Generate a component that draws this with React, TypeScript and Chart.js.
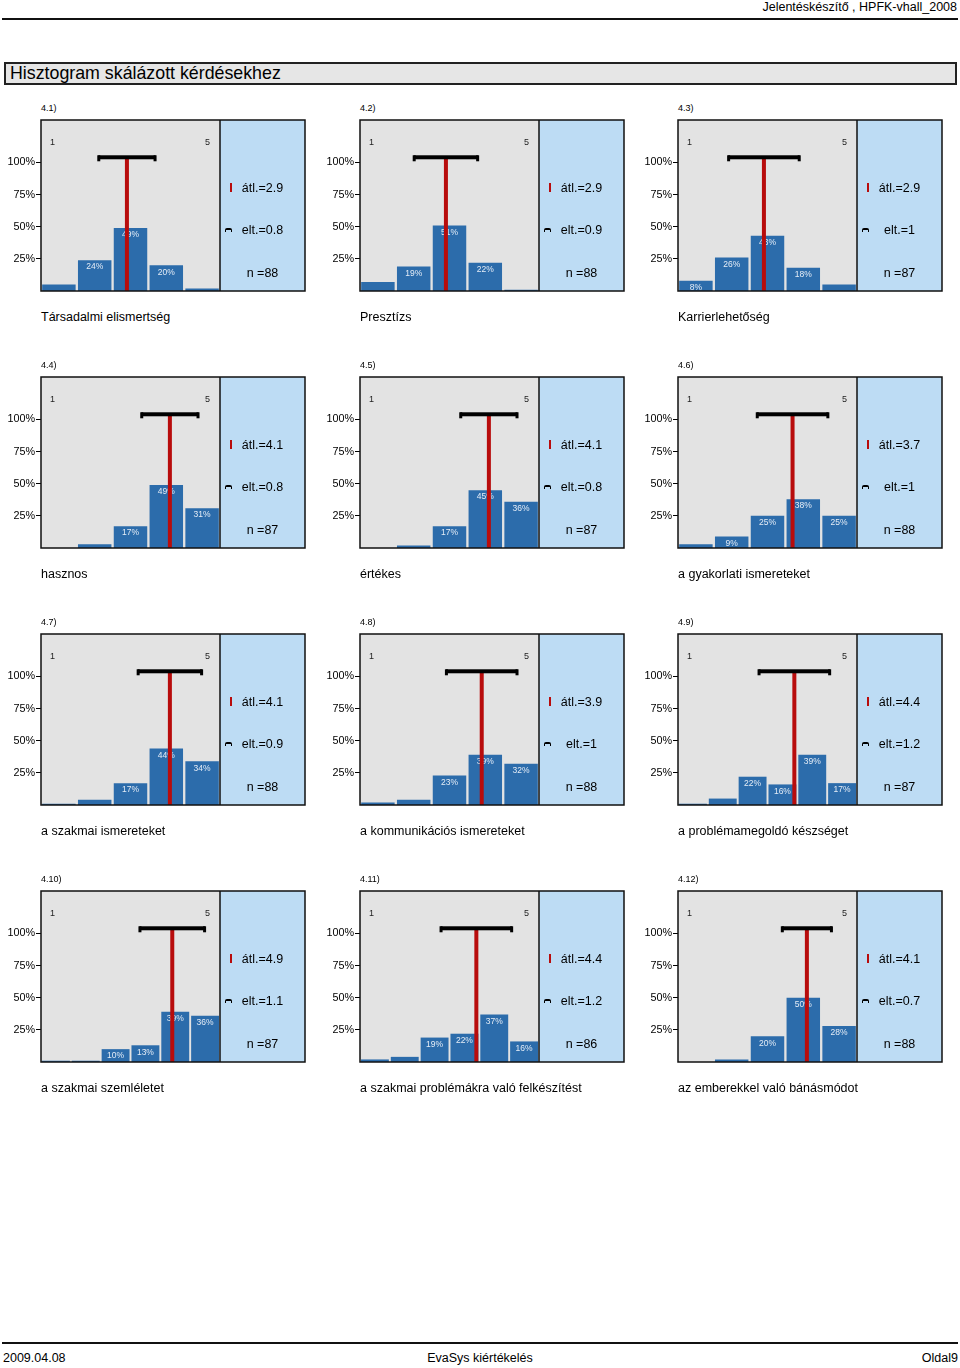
import React, { useEffect, useRef } from 'react';
import { Chart, registerables } from 'chart.js';

Chart.register(...registerables);

const FONT = "'Liberation Sans', Arial, Helvetica, sans-serif";
Chart.defaults.font.family = FONT;

// ---------- data ----------
const SCALE5 = ['1', '2', '3', '4', '5'];
const SCALE6 = ['1', '2', '3', '4', '5', '6'];
const Y_TICKS = [25, 50, 75, 100];

const QUESTION_IDS = ['4.1)', '4.2)', '4.3)', '4.4)', '4.5)', '4.6)', '4.7)', '4.8)', '4.9)', '4.10)', '4.11)', '4.12)'];
const TITLES = [
  'Társadalmi elismertség',
  'Presztízs',
  'Karrierlehetőség',
  'hasznos',
  'értékes',
  'a gyakorlati ismereteket',
  'a szakmai ismereteket',
  'a kommunikációs ismereteket',
  'a problémamegoldó készséget',
  'a szakmai szemléletet',
  'a szakmai problémákra való felkészítést',
  'az emberekkel való bánásmódot',
];

const P_4_1 = [5, 24, 49, 20, 2];
const P_4_2 = [7, 19, 51, 22, 1];
const P_4_3 = [8, 26, 43, 18, 5];
const P_4_4 = [0, 3, 17, 49, 31];
const P_4_5 = [0, 2, 17, 45, 36];
const P_4_6 = [3, 9, 25, 38, 25];
const P_4_7 = [1, 4, 17, 44, 34];
const P_4_8 = [2, 4, 23, 39, 32];
const P_4_9 = [1, 5, 22, 16, 39, 17];
const P_4_10 = [1, 1, 10, 13, 39, 36];
const P_4_11 = [2, 4, 19, 22, 37, 16];
const P_4_12 = [0, 2, 20, 50, 28];
const SERIES = [P_4_1, P_4_2, P_4_3, P_4_4, P_4_5, P_4_6, P_4_7, P_4_8, P_4_9, P_4_10, P_4_11, P_4_12];

const MEANS = [2.9, 2.9, 2.9, 4.1, 4.1, 3.7, 4.1, 3.9, 4.4, 4.9, 4.4, 4.1];
const DEVS = [0.8, 0.9, 1, 0.8, 0.8, 1, 0.9, 1, 1.2, 1.1, 1.2, 0.7];
const COUNTS = [88, 88, 87, 87, 87, 88, 88, 88, 87, 87, 86, 88];

// ---------- layout / style ----------
const COL_X = [41, 360, 678];
const ROW_Y = [120, 377, 634, 891];
const AXIS_W = 41;
const PLOT_W = 179;
const BLUE_W = 85;
const PLOT_H = 171;
const PAD = 14;
const Y_MAX = 133;
const BRACKET_LEVEL = 104;
const LABEL_MIN = 8;

const BAR_COLOR = '#2c6cab';
const PLOT_BG = '#e3e3e3';
const BLUE_BG = '#bddcf4';
const RED = '#b80c0c';

function makePlugin(idx: number) {
  return {
    id: 'panelDecor' + idx,
    beforeDraw(chart: any) {
      const { ctx, chartArea: a } = chart;
      ctx.save();
      ctx.fillStyle = PLOT_BG;
      ctx.fillRect(a.left, a.top, a.right - a.left, a.bottom - a.top);
      ctx.fillStyle = BLUE_BG;
      ctx.fillRect(a.right, a.top, BLUE_W, a.bottom - a.top);
      ctx.restore();
    },
    afterDatasetsDraw(chart: any) {
      const { ctx, chartArea: a } = chart;
      const values = SERIES[idx];
      const meta = chart.getDatasetMeta(0);
      ctx.save();
      // value labels
      ctx.font = `8.5px ${FONT}`;
      ctx.fillStyle = '#e4ecf6';
      ctx.textAlign = 'center';
      ctx.textBaseline = 'middle';
      meta.data.forEach((bar: any, i: number) => {
        const v = values[i];
        if (v >= LABEL_MIN) ctx.fillText(v + '%', bar.x, bar.y + 7);
      });
      // mean line + deviation bracket
      const xs = chart.scales.x;
      const ys = chart.scales.y;
      const m = MEANS[idx];
      const d = DEVS[idx];
      const mx = xs.getPixelForValue(m - 1);
      const lo = xs.getPixelForValue(m - d - 1);
      const hi = xs.getPixelForValue(m + d - 1);
      const yb = ys.getPixelForValue(BRACKET_LEVEL);
      ctx.fillStyle = RED;
      ctx.fillRect(mx - 2, yb, 4, a.bottom - yb);
      ctx.fillStyle = '#000';
      ctx.fillRect(lo, yb - 2, hi - lo, 4);
      ctx.fillRect(lo - 1, yb - 2, 3, 6);
      ctx.fillRect(hi - 2, yb - 2, 3, 6);
      // frames
      ctx.strokeStyle = '#111';
      ctx.lineWidth = 1.5;
      ctx.strokeRect(a.left, a.top, a.right - a.left + BLUE_W, a.bottom - a.top);
      ctx.beginPath();
      ctx.moveTo(a.right, a.top);
      ctx.lineTo(a.right, a.bottom);
      ctx.stroke();
      ctx.restore();
    },
  };
}

function Text({ x, cy, size, children, color = '#000', style = {} }: any) {
  return (
    <div
      style={{
        position: 'absolute',
        left: x,
        top: cy - size,
        height: size * 2,
        lineHeight: `${size * 2}px`,
        fontSize: size,
        whiteSpace: 'nowrap',
        color,
        ...style,
      }}
    >
      {children}
    </div>
  );
}

function Panel({ idx }: { idx: number }) {
  const ref = useRef<HTMLCanvasElement>(null);
  const x0 = COL_X[idx % 3];
  const y0 = ROW_Y[Math.floor(idx / 3)];
  const values = SERIES[idx];
  const labels = values.length === 6 ? SCALE6 : SCALE5;

  useEffect(() => {
    if (!ref.current) return;
    const chart = new Chart(ref.current, {
      type: 'bar',
      data: {
        labels,
        datasets: [
          {
            data: values,
            backgroundColor: BAR_COLOR,
            borderWidth: 0,
            barPercentage: 0.935,
            categoryPercentage: 1,
          },
        ],
      },
      options: {
        animation: false,
        responsive: false,
        maintainAspectRatio: false,
        devicePixelRatio: 1,
        events: [],
        layout: { padding: { top: PAD, bottom: PAD, left: 0, right: BLUE_W + 4 } },
        plugins: { legend: { display: false }, tooltip: { enabled: false } },
        scales: {
          x: { display: false, offset: true },
          y: {
            min: 0,
            max: Y_MAX,
            afterBuildTicks: (s: any) => {
              s.ticks = Y_TICKS.map((v) => ({ value: v }));
            },
            afterFit: (s: any) => {
              s.width = AXIS_W;
            },
            ticks: {
              callback: (v: any) => v + '%',
              color: '#000',
              font: { size: 10.8, family: FONT },
              padding: 1,
            },
            grid: {
              drawOnChartArea: false,
              drawTicks: true,
              tickLength: 5,
              color: '#000',
              lineWidth: 1,
            },
            border: { display: false },
          },
        },
      },
      plugins: [makePlugin(idx)],
    } as any);
    return () => chart.destroy();
  }, []);

  const cw = AXIS_W + PLOT_W + BLUE_W + 4;
  const ch = PLOT_H + 2 * PAD;
  const bx = x0 + PLOT_W;
  return (
    <>
      <Text x={x0} cy={y0 - 12} size={9}>{QUESTION_IDS[idx]}</Text>
      <canvas
        ref={ref}
        width={cw}
        height={ch}
        style={{ position: 'absolute', left: x0 - AXIS_W, top: y0 - PAD, width: cw, height: ch }}
      />
      <Text x={x0 + 9} cy={y0 + 22} size={9} color="#222">1</Text>
      <Text x={x0 + 164} cy={y0 + 22} size={9} color="#222">5</Text>
      <div style={{ position: 'absolute', left: x0 + 189, top: y0 + 63, width: 2, height: 9, background: RED }} />
      <Text x={bx} cy={y0 + 68} size={12.5} style={{ width: BLUE_W, textAlign: 'center' }}>
        {'átl.=' + MEANS[idx]}
      </Text>
      <div
        style={{
          position: 'absolute',
          left: x0 + 184,
          top: y0 + 108,
          width: 5,
          height: 2,
          borderTop: '2px solid #000',
          borderLeft: '1.5px solid #000',
          borderRight: '1.5px solid #000',
          borderRadius: '2px 2px 0 0',
        }}
      />
      <Text x={bx} cy={y0 + 110} size={12.5} style={{ width: BLUE_W, textAlign: 'center' }}>
        {'elt.=' + DEVS[idx]}
      </Text>
      <Text x={bx} cy={y0 + 153} size={12.5} style={{ width: BLUE_W, textAlign: 'center' }}>
        {'n =' + COUNTS[idx]}
      </Text>
      <Text x={x0} cy={y0 + 197} size={12.5}>{TITLES[idx]}</Text>
    </>
  );
}

export default function App() {
  return (
    <div
      style={{
        position: 'absolute',
        left: 0,
        top: 0,
        width: 960,
        height: 1368,
        background: '#fff',
        fontFamily: FONT,
        overflow: 'hidden',
      }}
    >
      <div style={{ position: 'absolute', right: 3, top: 0, height: 14, lineHeight: '14px', fontSize: 12.5, whiteSpace: 'nowrap' }}>
        Jelentéskészítő , HPFK-vhall_2008
      </div>
      <div style={{ position: 'absolute', left: 2, top: 18, width: 956, height: 2, background: '#111' }} />
      <div
        style={{
          position: 'absolute',
          left: 4,
          top: 62,
          width: 949,
          height: 19,
          border: '2px solid #222',
          background: '#e6e6e6',
        }}
      />
      <Text x={10} cy={74} size={17.8}>Hisztogram skálázott kérdésekhez</Text>
      {SERIES.map((_, i) => (
        <Panel key={i} idx={i} />
      ))}
      <div style={{ position: 'absolute', left: 2, top: 1342, width: 956, height: 2, background: '#111' }} />
      <Text x={3} cy={1358} size={12.5}>2009.04.08</Text>
      <div style={{ position: 'absolute', left: 0, width: 960, top: 1351, height: 14, lineHeight: '14px', fontSize: 12.5, textAlign: 'center' }}>
        EvaSys kiértékelés
      </div>
      <div style={{ position: 'absolute', right: 2, top: 1351, height: 14, lineHeight: '14px', fontSize: 12.5 }}>
        Oldal9
      </div>
    </div>
  );
}
